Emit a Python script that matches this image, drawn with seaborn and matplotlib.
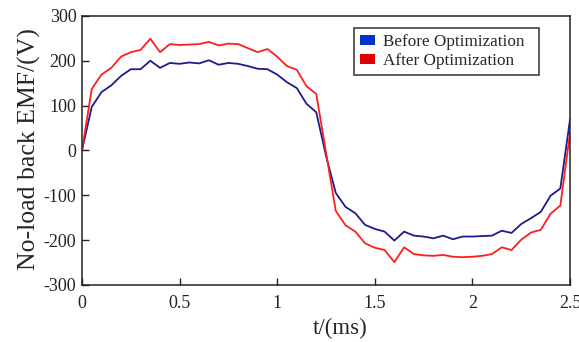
import numpy as np
import pandas as pd
import seaborn as sns
import matplotlib
matplotlib.use("Agg")
import matplotlib.pyplot as plt
from matplotlib.patches import Patch

t_ms = [0.0, 0.05, 0.1, 0.15, 0.2, 0.25, 0.3, 0.35, 0.4, 0.45,
        0.5, 0.55, 0.6, 0.65, 0.7, 0.75, 0.8, 0.85, 0.9, 0.95,
        1.0, 1.05, 1.1, 1.15, 1.2, 1.25, 1.3, 1.35, 1.4, 1.45,
        1.5, 1.55, 1.6, 1.65, 1.7, 1.75, 1.8, 1.85, 1.9, 1.95,
        2.0, 2.05, 2.1, 2.15, 2.2, 2.25, 2.3, 2.35, 2.4, 2.45, 2.5]

before = [0, 97, 130, 145, 166, 181, 181, 200, 184, 195,
          193, 196, 194, 201, 191, 195, 193, 188, 182, 181,
          169, 152, 139, 104, 85, -12, -95, -126, -140, -166,
          -175, -181, -201, -181, -190, -192, -196, -190, -198, -192,
          -192, -191, -190, -179, -184, -164, -151, -137, -101, -85, 70]

after = [0, 137, 169, 184, 209, 219, 224, 249, 219, 237,
         235, 236, 237, 242, 234, 238, 237, 228, 219, 226,
         209, 188, 180, 143, 126, -5, -135, -167, -181, -207,
         -217, -222, -249, -216, -231, -234, -235, -233, -237, -238,
         -237, -235, -231, -216, -222, -199, -183, -177, -141, -123, 40]

series_names = ["Before Optimization", "After Optimization"]
x_ticks = [0, 0.5, 1, 1.5, 2, 2.5]
x_tick_labels = ["0", "0.5", "1", "1.5", "2", "2.5"]
y_ticks = [-300, -200, -100, 0, 100, 200, 300]

df = pd.DataFrame({
    "t": t_ms * 2,
    "emf": before + after,
    "series": [series_names[0]] * len(t_ms) + [series_names[1]] * len(t_ms),
})

sns.set_style("white")
plt.rcParams["font.family"] = ["Liberation Serif", "DejaVu Serif"]
plt.rcParams["axes.unicode_minus"] = False

fig = plt.figure(figsize=(5.79, 3.42), dpi=100)
ax = fig.add_axes([0.1416, 0.1667, 0.843, 0.787])

line_colors = {series_names[0]: "#1c1c8a", series_names[1]: "#ff1e1e"}
sns.lineplot(data=df, x="t", y="emf", hue="series", palette=line_colors,
             linewidth=1.3, ax=ax, legend=False)

ax.set_xlim(0, 2.5)
ax.set_ylim(-300, 300)
ax.set_xticks(x_ticks)
ax.set_xticklabels(x_tick_labels)
ax.set_yticks(y_ticks)
ax.tick_params(axis="both", direction="in", length=5, width=1, labelsize=13,
               colors="#222222", top=False, right=False, bottom=True, left=True)
ax.tick_params(axis="x", pad=7)
ax.tick_params(axis="y", pad=4)
for s in ax.spines.values():
    s.set_color("#222222")
    s.set_linewidth(1.1)

ax.set_xlabel("t/(ms)", fontsize=16.5)
ax.xaxis.set_label_coords(0.529, -0.122)
ax.set_ylabel("No-load back EMF/(V)", fontsize=18.5)
ax.yaxis.set_label_coords(-0.083, 0.505)

handles = [Patch(facecolor="#0033cc", edgecolor="none", label=series_names[0]),
           Patch(facecolor="#e00000", edgecolor="none", label=series_names[1])]
leg = ax.legend(handles=handles, loc="upper left",
                bbox_to_anchor=(0.557, 0.0, 0.379, 0.955), mode="expand",
                borderaxespad=0, fontsize=12.3, frameon=True, fancybox=False,
                handlelength=0.86, handleheight=0.55, handletextpad=0.5,
                borderpad=0.35, labelspacing=0.18)
leg.get_frame().set_edgecolor("#111111")
leg.get_frame().set_linewidth(1.2)

fig.savefig("out.png", dpi=100)
